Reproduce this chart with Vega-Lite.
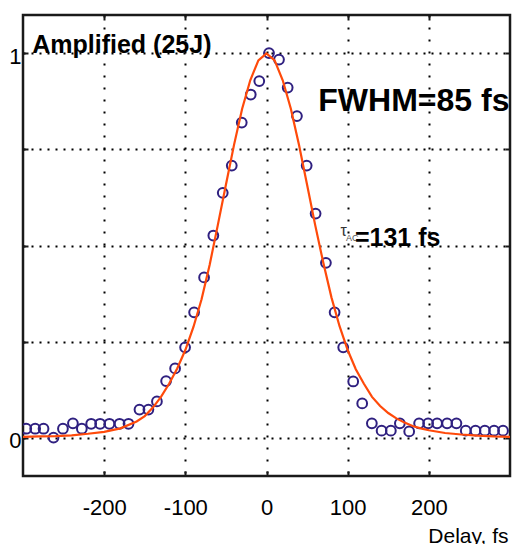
{
  "$schema": "https://vega.github.io/schema/vega-lite/v6.json",
  "width": 487,
  "height": 461,
  "autosize": "none",
  "padding": {"left": 23, "top": 15, "right": 3, "bottom": 68},
  "config": {
    "font": "Liberation Sans",
    "view": {"stroke": "#1a1a1a", "strokeWidth": 2.5}
  },
  "datasets": {
    "points": [
      {"delay": -296, "signal": 0.023}, {"delay": -285, "signal": 0.023}, {"delay": -274.7, "signal": 0.023},
      {"delay": -262.4, "signal": 0.0}, {"delay": -250.8, "signal": 0.023}, {"delay": -238.5, "signal": 0.037},
      {"delay": -227.5, "signal": 0.023}, {"delay": -216, "signal": 0.036}, {"delay": -205, "signal": 0.036},
      {"delay": -193.5, "signal": 0.036}, {"delay": -181, "signal": 0.036}, {"delay": -170, "signal": 0.036},
      {"delay": -156.5, "signal": 0.073}, {"delay": -145.5, "signal": 0.073}, {"delay": -135, "signal": 0.094},
      {"delay": -123.7, "signal": 0.147}, {"delay": -112.6, "signal": 0.18}, {"delay": -100.3, "signal": 0.235},
      {"delay": -89.2, "signal": 0.326}, {"delay": -76.9, "signal": 0.417}, {"delay": -65.5, "signal": 0.526},
      {"delay": -53.9, "signal": 0.637}, {"delay": -42.8, "signal": 0.708}, {"delay": -30.5, "signal": 0.82},
      {"delay": -19.4, "signal": 0.893}, {"delay": -8.9, "signal": 0.928}, {"delay": 3.1, "signal": 1.001},
      {"delay": 15.4, "signal": 0.984}, {"delay": 26.1, "signal": 0.911}, {"delay": 37.5, "signal": 0.837},
      {"delay": 49.5, "signal": 0.708}, {"delay": 60.5, "signal": 0.583}, {"delay": 73.2, "signal": 0.455},
      {"delay": 83.9, "signal": 0.326}, {"delay": 94.5, "signal": 0.235}, {"delay": 106.8, "signal": 0.146},
      {"delay": 117.9, "signal": 0.089}, {"delay": 129.8, "signal": 0.037}, {"delay": 141.8, "signal": 0.018},
      {"delay": 153.2, "signal": 0.018}, {"delay": 164.3, "signal": 0.037}, {"delay": 175.8, "signal": 0.016},
      {"delay": 188, "signal": 0.037}, {"delay": 199.1, "signal": 0.037}, {"delay": 210.2, "signal": 0.037},
      {"delay": 222.5, "signal": 0.037}, {"delay": 234, "signal": 0.037}, {"delay": 245.5, "signal": 0.018},
      {"delay": 257.5, "signal": 0.018}, {"delay": 269, "signal": 0.018}, {"delay": 280.4, "signal": 0.018},
      {"delay": 291.4, "signal": 0.018}
    ],
    "fit": [
      {"delay": -300, "signal": 0.002}, {"delay": -280, "signal": 0.003}, {"delay": -260, "signal": 0.004},
      {"delay": -240, "signal": 0.006}, {"delay": -220, "signal": 0.01}, {"delay": -200, "signal": 0.015},
      {"delay": -180, "signal": 0.024}, {"delay": -160, "signal": 0.042}, {"delay": -150, "signal": 0.056},
      {"delay": -140, "signal": 0.078}, {"delay": -130, "signal": 0.106}, {"delay": -120, "signal": 0.14},
      {"delay": -110, "signal": 0.18}, {"delay": -100, "signal": 0.228}, {"delay": -90, "signal": 0.288},
      {"delay": -80, "signal": 0.36}, {"delay": -70, "signal": 0.45}, {"delay": -60, "signal": 0.553},
      {"delay": -50, "signal": 0.658}, {"delay": -40, "signal": 0.762}, {"delay": -30, "signal": 0.856},
      {"delay": -20, "signal": 0.93}, {"delay": -10, "signal": 0.982}, {"delay": 0, "signal": 1.0},
      {"delay": 10, "signal": 0.982}, {"delay": 20, "signal": 0.93}, {"delay": 30, "signal": 0.856},
      {"delay": 40, "signal": 0.762}, {"delay": 50, "signal": 0.658}, {"delay": 60, "signal": 0.553},
      {"delay": 70, "signal": 0.455}, {"delay": 80, "signal": 0.365}, {"delay": 90, "signal": 0.29},
      {"delay": 100, "signal": 0.228}, {"delay": 110, "signal": 0.178}, {"delay": 120, "signal": 0.14},
      {"delay": 130, "signal": 0.106}, {"delay": 140, "signal": 0.082}, {"delay": 150, "signal": 0.064},
      {"delay": 160, "signal": 0.05}, {"delay": 170, "signal": 0.039}, {"delay": 180, "signal": 0.03},
      {"delay": 190, "signal": 0.024}, {"delay": 200, "signal": 0.019}, {"delay": 220, "signal": 0.012},
      {"delay": 240, "signal": 0.008}, {"delay": 260, "signal": 0.005}, {"delay": 280, "signal": 0.003},
      {"delay": 300, "signal": 0.002}
    ],
    "labels": [
      {"delay": -288.6, "signal": 1.0, "text": "Amplified (25J)", "kind": "title"},
      {"delay": 63.8, "signal": 0.85, "text": "FWHM=85 fs", "kind": "fwhm"},
      {"delay": 91.2, "signal": 0.525, "text": "τ", "kind": "tau"},
      {"delay": 98.0, "signal": 0.511, "text": "AC", "kind": "sub"},
      {"delay": 108.9, "signal": 0.498, "text": "=131 fs", "kind": "tauval"}
    ]
  },
  "resolve": {"axis": {"x": "independent", "y": "independent"}},
  "layer": [
    {
      "data": {"name": "points"},
      "mark": {"type": "point", "shape": "circle", "filled": false, "stroke": "#2f2080", "strokeWidth": 2, "size": 95, "opacity": 1, "clip": true},
      "encoding": {
        "x": {"field": "delay", "type": "quantitative",
          "scale": {"domain": [-300, 300], "nice": false, "zero": false},
          "axis": {"orient": "bottom", "values": [-200, -100, 0, 100, 200], "domain": false,
            "grid": true, "gridColor": "#000000", "gridWidth": 2, "gridDash": [2, 10],
            "ticks": true, "tickSize": -5, "tickWidth": 2, "tickColor": "#1a1a1a",
            "labelExpr": "replace(datum.label, '−', '-')",
            "labelPadding": 26, "labelFontSize": 22, "labelColor": "#000000", "labelBaseline": "top",
            "title": "Delay, fs", "titleFontSize": 21, "titleFontWeight": "normal", "titleColor": "#000000",
            "titleAlign": "right", "titleBaseline": "alphabetic", "titleX": 485, "titleY": 66, "titleAnchor": "start"}},
        "y": {"field": "signal", "type": "quantitative",
          "scale": {"domain": [-0.1, 1.1], "nice": false, "zero": false},
          "axis": {"orient": "left", "values": [0, 0.25, 0.5, 0.75, 1], "domain": false,
            "grid": true, "gridColor": "#000000", "gridWidth": 2, "gridDash": [2, 6],
            "ticks": true, "tickSize": -5, "tickWidth": 2, "tickColor": "#1a1a1a",
            "labelExpr": "datum.value == 0 ? '0' : (datum.value == 1 ? '1' : '')",
            "labelPadding": 7, "labelFontSize": 22, "labelColor": "#000000", "labelOffset": 3,
            "title": null}}
      }
    },
    {
      "data": {"name": "fit"},
      "mark": {"type": "line", "color": "#ff4a0a", "strokeWidth": 2.2, "clip": true},
      "encoding": {
        "x": {"field": "delay", "type": "quantitative",
          "axis": {"orient": "top", "values": [-200, -100, 0, 100, 200], "domain": false, "grid": false,
            "labels": false, "ticks": true, "tickSize": -5, "tickWidth": 2, "tickColor": "#1a1a1a", "title": null}},
        "y": {"field": "signal", "type": "quantitative",
          "axis": {"orient": "right", "values": [0, 0.25, 0.5, 0.75, 1], "domain": false, "grid": false,
            "labels": false, "ticks": true, "tickSize": -5, "tickWidth": 2, "tickColor": "#1a1a1a", "title": null}}
      }
    },
    {
      "data": {"name": "labels"},
      "transform": [{"filter": "datum.kind == 'title'"}],
      "mark": {"type": "text", "align": "left", "baseline": "alphabetic", "fontSize": 25, "fontWeight": "bold", "color": "#000000"},
      "encoding": {
        "x": {"field": "delay", "type": "quantitative", "axis": null},
        "y": {"field": "signal", "type": "quantitative", "axis": null},
        "text": {"field": "text"}
      }
    },
    {
      "data": {"name": "labels"},
      "transform": [{"filter": "datum.kind == 'fwhm'"}],
      "mark": {"type": "text", "align": "left", "baseline": "alphabetic", "fontSize": 32, "fontWeight": "bold", "color": "#000000"},
      "encoding": {
        "x": {"field": "delay", "type": "quantitative", "axis": null},
        "y": {"field": "signal", "type": "quantitative", "axis": null},
        "text": {"field": "text"}
      }
    },
    {
      "data": {"name": "labels"},
      "transform": [{"filter": "datum.kind == 'tau'"}],
      "mark": {"type": "text", "align": "left", "baseline": "alphabetic", "fontSize": 16, "color": "#333333"},
      "encoding": {
        "x": {"field": "delay", "type": "quantitative", "axis": null},
        "y": {"field": "signal", "type": "quantitative", "axis": null},
        "text": {"field": "text"}
      }
    },
    {
      "data": {"name": "labels"},
      "transform": [{"filter": "datum.kind == 'sub'"}],
      "mark": {"type": "text", "align": "left", "baseline": "alphabetic", "fontSize": 9, "color": "#555555"},
      "encoding": {
        "x": {"field": "delay", "type": "quantitative", "axis": null},
        "y": {"field": "signal", "type": "quantitative", "axis": null},
        "text": {"field": "text"}
      }
    },
    {
      "data": {"name": "labels"},
      "transform": [{"filter": "datum.kind == 'tauval'"}],
      "mark": {"type": "text", "align": "left", "baseline": "alphabetic", "fontSize": 25, "fontWeight": "bold", "color": "#000000"},
      "encoding": {
        "x": {"field": "delay", "type": "quantitative", "axis": null},
        "y": {"field": "signal", "type": "quantitative", "axis": null},
        "text": {"field": "text"}
      }
    }
  ]
}
